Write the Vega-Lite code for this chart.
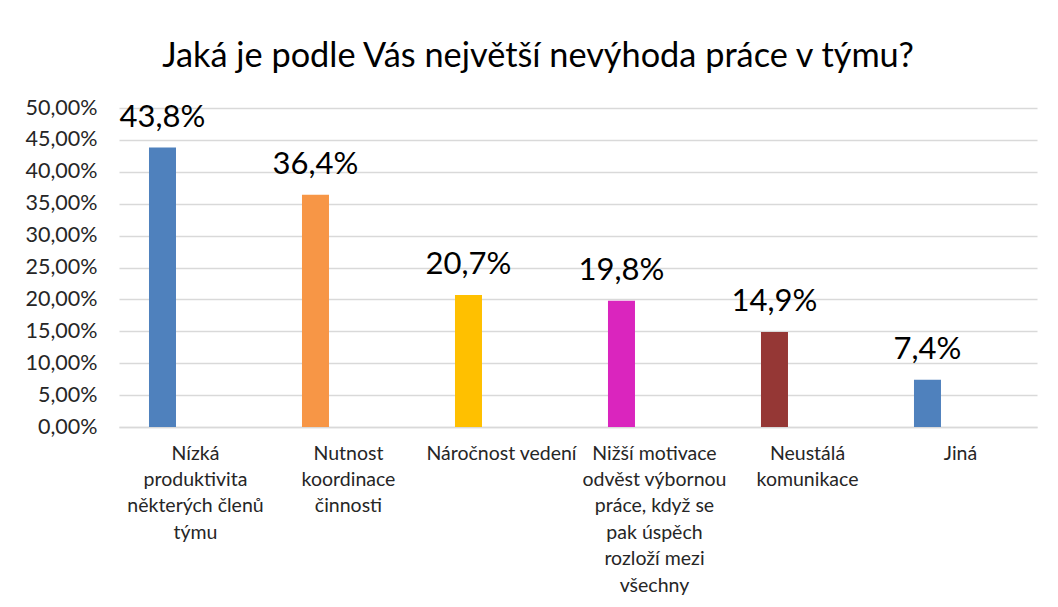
{
  "$schema": "https://vega.github.io/schema/vega-lite/v6.json",
  "width": 918,
  "height": 319,
  "autosize": {"type": "none"},
  "padding": {"left": 119, "top": 108, "right": 21, "bottom": 180},
  "background": "white",
  "title": {
    "text": "Jaká je podle Vás největší nevýhoda práce v týmu?",
    "font": "Lato",
    "fontSize": 34.3,
    "fontWeight": "normal",
    "color": "#000000",
    "anchor": "middle",
    "frame": "group",
    "dx": -40,
    "baseline": "alphabetic",
    "offset": -4
  },
  "data": {
    "values": [
      {"category": "Nízká\nproduktivita\nněkterých členů\ntýmu", "share": 0.438},
      {"category": "Nutnost\nkoordinace\nčinnosti", "share": 0.364},
      {"category": "Náročnost vedení", "share": 0.207},
      {"category": "Nižší motivace\nodvěst výbornou\npráce, když se\npak úspěch\nrozloží mezi\nvšechny", "share": 0.198},
      {"category": "Neustálá\nkomunikace", "share": 0.149},
      {"category": "Jiná", "share": 0.074}
    ]
  },
  "encoding": {
    "x": {
      "field": "category",
      "type": "nominal",
      "sort": null,
      "scale": {"paddingInner": 0.8235, "paddingOuter": 0.4118, "align": 0.238},
      "axis": {
        "title": null,
        "labelAngle": 0,
        "labelExpr": "split(datum.label, '\\n')",
        "labelFont": "Lato",
        "labelFontSize": 19.5,
        "labelLineHeight": 26.4,
        "labelColor": "#262626",
        "labelBaseline": "top",
        "labelPadding": 17,
        "labelOffset": 33,
        "labelLimit": 0,
        "ticks": false,
        "domain": true,
        "domainColor": "#D9D9D9",
        "domainWidth": 1.5,
        "grid": false
      }
    },
    "y": {
      "field": "share",
      "type": "quantitative",
      "scale": {"domain": [0, 0.5], "nice": false},
      "axis": {
        "title": null,
        "values": [0, 0.05, 0.1, 0.15, 0.2, 0.25, 0.3, 0.35, 0.4, 0.45, 0.5],
        "format": ".2%",
        "labelFont": "Lato",
        "labelFontSize": 21.5,
        "labelColor": "#262626",
        "labelPadding": 22,
        "ticks": false,
        "domain": false,
        "grid": true,
        "gridColor": "#D9D9D9",
        "gridWidth": 1.5
      }
    }
  },
  "layer": [
    {
      "mark": {"type": "bar"},
      "encoding": {
        "color": {
          "field": "category",
          "type": "nominal",
          "scale": {
            "domain": [
              "Nízká\nproduktivita\nněkterých členů\ntýmu",
              "Nutnost\nkoordinace\nčinnosti",
              "Náročnost vedení",
              "Nižší motivace\nodvěst výbornou\npráce, když se\npak úspěch\nrozloží mezi\nvšechny",
              "Neustálá\nkomunikace",
              "Jiná"
            ],
            "range": ["#4F81BD", "#F79646", "#FFC000", "#DA25BE", "#953735", "#4F81BD"]
          },
          "legend": null
        }
      }
    },
    {
      "mark": {
        "type": "text",
        "font": "Lato",
        "fontSize": 31,
        "color": "#000000",
        "baseline": "alphabetic",
        "dy": -21
      },
      "encoding": {
        "text": {"field": "share", "type": "quantitative", "format": ".1%"}
      }
    }
  ],
  "config": {
    "locale": {
      "number": {"decimal": ",", "thousands": " ", "grouping": [3], "currency": ["", " Kč"]}
    },
    "view": {"stroke": null}
  }
}
